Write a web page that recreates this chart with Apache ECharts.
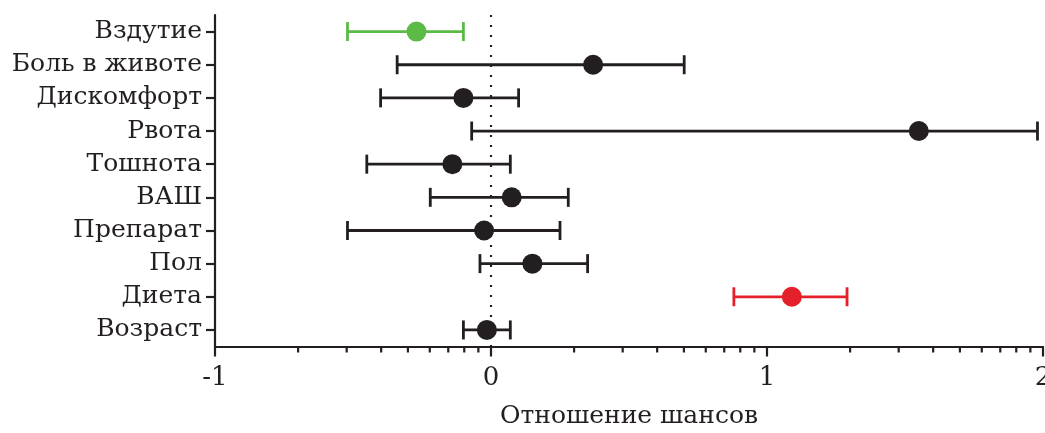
<!DOCTYPE html>
<html>
<head>
<meta charset="utf-8">
<script src="https://cdn.jsdelivr.net/npm/echarts@6/dist/echarts.min.js"></script>
<style>
  html, body { margin: 0; padding: 0; background: #fff; }
  #chart { width: 1045px; height: 433px; }
</style>
</head>
<body>
<div id="chart"></div>
<script>
// Factors, top to bottom
const categories = ['Вздутие', 'Боль в животе', 'Дискомфорт', 'Рвота', 'Тошнота',
                    'ВАШ', 'Препарат', 'Пол', 'Диета', 'Возраст'];
// Point estimate and confidence limits (log10 scale of odds ratio)
const estimate = [-0.27, 0.37, -0.10, 1.55, -0.14, 0.075, -0.025, 0.15, 1.09, -0.015];
const lower    = [-0.52, -0.34, -0.40, -0.07, -0.45, -0.22, -0.52, -0.04, 0.88, -0.10];
const upper    = [-0.10, 0.70, 0.10, 1.98, 0.07, 0.28, 0.25, 0.35, 1.29, 0.07];
// Row highlight: 0 = neutral, 1 = protective, 2 = risk
const highlight = [1, 0, 0, 0, 0, 0, 0, 0, 2, 0];
// Major tick labels on the odds-ratio axis
const xTicks = [-1, 0, 1, 2];

const palette = ['#231f20', '#5cbb46', '#e4202a'];
const FONT = 'DejaVu Serif';

// Logarithmic minor ticks between decades (2..9 × 10^n)
const minorTicks = [];
for (let d = xTicks[0]; d < xTicks[xTicks.length - 1]; d++) {
  for (let k = 2; k <= 9; k++) minorTicks.push(d + Math.log10(k));
}

const barData = categories.map((c, i) => [i, lower[i], upper[i]]);
const pointData = categories.map((c, i) => ({
  value: [estimate[i], i],
  itemStyle: { color: palette[highlight[i]], opacity: 1 }
}));

const chart = echarts.init(document.getElementById('chart'), null, { renderer: 'canvas' });

chart.setOption({
  animation: false,
  backgroundColor: '#fff',
  grid: { left: 215, right: 2, top: 15, bottom: 86.5, containLabel: false, outerBoundsMode: 'none' },
  xAxis: {
    type: 'value',
    min: xTicks[0],
    max: xTicks[xTicks.length - 1],
    interval: 1,
    name: 'Отношение шансов',
    nameLocation: 'middle',
    nameGap: 57,
    nameTextStyle: { fontFamily: FONT, fontSize: 25, color: '#231f20' },
    axisLine: { show: true, onZero: false, lineStyle: { color: '#231f20', width: 2.2 } },
    axisTick: { show: true, length: 10, lineStyle: { color: '#231f20', width: 2.2 } },
    axisLabel: { fontFamily: FONT, fontSize: 26, color: '#231f20', margin: 19 },
    splitLine: { show: false }
  },
  yAxis: {
    type: 'category',
    data: categories,
    inverse: true,
    axisLine: { show: true, onZero: false, lineStyle: { color: '#231f20', width: 2.2 } },
    axisTick: { show: true, alignWithLabel: true, length: 9, lineStyle: { color: '#231f20', width: 2.2 } },
    axisLabel: { fontFamily: FONT, fontSize: 25, color: '#231f20', margin: 13 },
    splitLine: { show: false }
  },
  series: [
    {
      // confidence intervals with end caps
      type: 'custom',
      z: 3,
      data: barData,
      encode: { y: 0, x: [1, 2] },
      renderItem: function (params, api) {
        const row = api.value(0);
        const a = api.coord([api.value(1), row]);
        const b = api.coord([api.value(2), row]);
        const color = palette[highlight[params.dataIndex]];
        const half = 9.5;
        const style = { stroke: color, lineWidth: 2.8, fill: null };
        return {
          type: 'group',
          children: [
            { type: 'line', shape: { x1: a[0], y1: a[1], x2: b[0], y2: b[1] }, style: style },
            { type: 'line', shape: { x1: a[0], y1: a[1] - half, x2: a[0], y2: a[1] + half }, style: style },
            { type: 'line', shape: { x1: b[0], y1: b[1] - half, x2: b[0], y2: b[1] + half }, style: style }
          ]
        };
      }
    },
    {
      // point estimates
      type: 'scatter',
      z: 4,
      symbol: 'circle',
      symbolSize: 20,
      data: pointData,
      markLine: {
        silent: true,
        symbol: 'none',
        label: { show: false },
        lineStyle: { color: '#231f20', width: 2.2, type: [2, 8], cap: 'butt', opacity: 1 },
        data: [{ xAxis: 0 }]
      }
    },
    {
      // minor ticks along the odds-ratio axis
      type: 'custom',
      silent: true,
      clip: false,
      data: minorTicks.map(v => [v]),
      encode: { x: 0 },
      renderItem: function (params, api) {
        const x = api.coord([api.value(0), 0])[0];
        const y0 = params.coordSys.y + params.coordSys.height;
        return {
          type: 'line',
          shape: { x1: x, y1: y0, x2: x, y2: y0 + 6 },
          style: { stroke: '#231f20', lineWidth: 2.2 }
        };
      }
    }
  ]
});
</script>
</body>
</html>
